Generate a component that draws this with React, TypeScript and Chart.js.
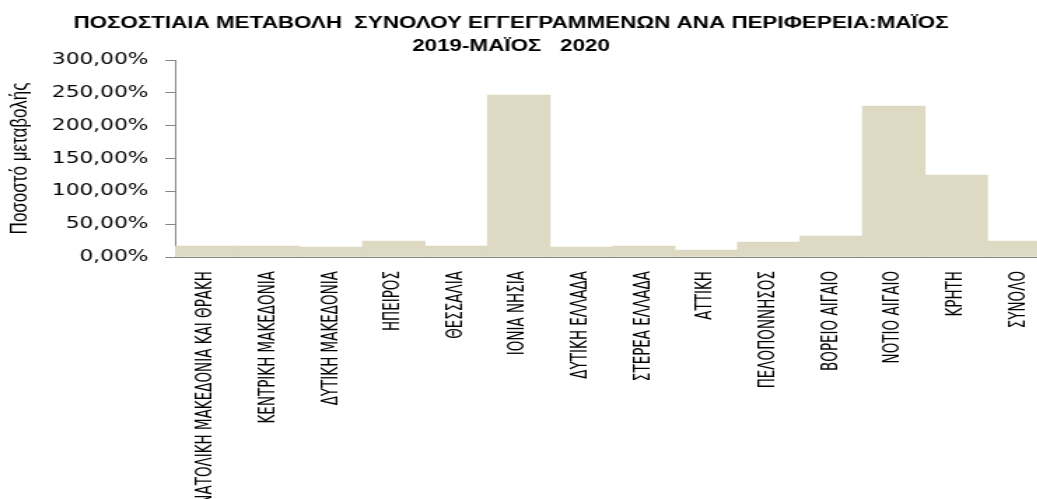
import React, { useEffect, useRef } from 'react';
import { Chart, registerables } from 'chart.js';

Chart.register(...registerables);

const TITLE_LINES = [
  'ΠΟΣΟΣΤΙΑΙΑ ΜΕΤΑΒΟΛΗ  ΣΥΝΟΛΟΥ ΕΓΓΕΓΡΑΜΜΕΝΩΝ ΑΝΑ ΠΕΡΙΦΕΡΕΙΑ:ΜΑΪΟΣ',
  '2019-ΜΑΪΟΣ   2020',
];
const Y_TITLE = 'Ποσοστό μεταβολής';

const REGIONS = [
  'ΑΝΑΤΟΛΙΚΗ ΜΑΚΕΔΟΝΙΑ ΚΑΙ ΘΡΑΚΗ',
  'ΚΕΝΤΡΙΚΗ ΜΑΚΕΔΟΝΙΑ',
  'ΔΥΤΙΚΗ ΜΑΚΕΔΟΝΙΑ',
  'ΗΠΕΙΡΟΣ',
  'ΘΕΣΣΑΛΙΑ',
  'ΙΟΝΙΑ ΝΗΣΙΑ',
  'ΔΥΤΙΚΗ ΕΛΛΑΔΑ',
  'ΣΤΕΡΕΑ ΕΛΛΑΔΑ',
  'ΑΤΤΙΚΗ',
  'ΠΕΛΟΠΟΝΝΗΣΟΣ',
  'ΒΟΡΕΙΟ ΑΙΓΑΙΟ',
  'ΝΟΤΙΟ ΑΙΓΑΙΟ',
  'ΚΡΗΤΗ',
  'ΣΥΝΟΛΟ',
];

const CHANGE_PCT = [16.8, 16.8, 15.2, 24.4, 16.8, 246.7, 15.2, 16.8, 10.7, 22.8, 32.0, 230.0, 124.9, 24.4];

const Y_MIN = 0;
const Y_MAX = 300;
const Y_STEP = 50;

// Reference image is horizontally stretched; render narrow canvas and stretch via CSS.
const STRETCH = 1.4;
const CANVAS_W = 760;
const CANVAS_H = 499;

const titlePlugin = {
  id: 'customTitle',
  afterDraw(chart: any) {
    const ctx = chart.ctx;
    ctx.save();
    ctx.fillStyle = '#000';
    ctx.textAlign = 'center';
    ctx.textBaseline = 'middle';
    ctx.font = 'bold 16px "Liberation Sans", Arial, sans-serif';
    const cx = 511 / STRETCH;
    ctx.fillText(TITLE_LINES[0], cx, 23.5);
    ctx.fillText(TITLE_LINES[1], cx, 46.5);
    ctx.restore();
  },
};

export default function App() {
  const ref = useRef<HTMLCanvasElement | null>(null);

  useEffect(() => {
    if (!ref.current) return;
    const chart = new Chart(ref.current, {
      type: 'bar',
      data: {
        labels: REGIONS,
        datasets: [
          {
            label: Y_TITLE,
            data: CHANGE_PCT,
            backgroundColor: '#ddd9c3',
            borderWidth: 0,
            categoryPercentage: 1,
            barPercentage: 1,
          },
        ],
      },
      plugins: [titlePlugin],
      options: {
        responsive: false,
        animation: false,
        devicePixelRatio: 1,
        layout: { padding: { top: 60, right: 8.6, left: 0, bottom: 0 } },
        plugins: {
          legend: { display: false },
          title: { display: false },
          tooltip: { enabled: false },
        },
        scales: {
          x: {
            afterFit: (s: any) => {
              s.height = CANVAS_H - 257;
            },
            grid: { display: false, drawTicks: false, tickLength: 0 },
            border: { display: true, color: '#868686', width: 1 },
            ticks: {
              autoSkip: false,
              minRotation: 90,
              maxRotation: 90,
              padding: 14,
              color: '#000',
              font: { family: '"Liberation Sans Narrow", "DejaVu Sans Condensed", "Liberation Sans", sans-serif', size: 15 },
            },
          },
          y: {
            min: Y_MIN,
            max: Y_MAX,
            afterFit: (s: any) => {
              s.width = 125;
            },
            grid: { drawOnChartArea: false, drawTicks: true, tickLength: 7, color: '#868686' },
            border: { display: true, color: '#868686', width: 1 },
            ticks: {
              stepSize: Y_STEP,
              padding: 12,
              color: '#000',
              font: { family: '"DejaVu Sans", sans-serif', size: 15.5 },
              callback: (v: any) => Number(v).toFixed(2).replace('.', ',') + '%',
            },
            title: {
              display: true,
              text: Y_TITLE,
              color: '#000',
              padding: { top: 4, bottom: 0 },
              font: { family: '"Liberation Sans Narrow", "Liberation Sans", sans-serif', size: 17 },
            },
          },
        },
      },
    });
    return () => chart.destroy();
  }, []);

  return (
    <div
      style={{
        position: 'fixed',
        left: 0,
        top: 0,
        width: 1037,
        height: 499,
        overflow: 'hidden',
        background: '#fff',
      }}
    >
      <canvas
        ref={ref}
        width={CANVAS_W}
        height={CANVAS_H}
        style={{ width: `${CANVAS_W * STRETCH}px`, height: `${CANVAS_H}px`, display: 'block' }}
      />
    </div>
  );
}
